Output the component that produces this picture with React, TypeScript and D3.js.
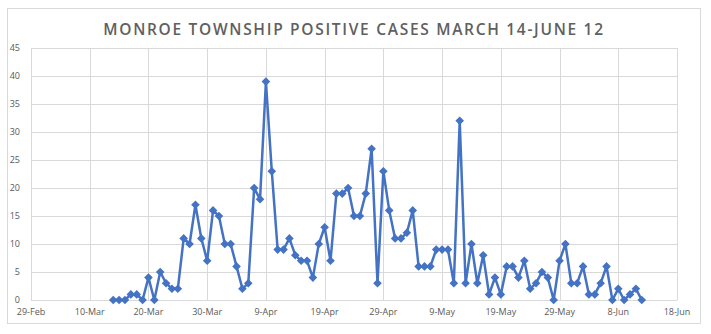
import React from "react";
import * as d3 from "d3";

const startDate = "2020-03-14";
const cases: number[] = [
  0, 0, 0, 1, 1, 0, 4, 0, 5, 3, 2, 2, 11, 10, 17, 11, 7, 16, 15, 10, 10, 6, 2, 3,
  20, 18, 39, 23, 9, 9, 11, 8, 7, 7, 4, 10, 13, 7, 19, 19, 20, 15, 15, 19, 27, 3,
  23, 16, 11, 11, 12, 16, 6, 6, 6, 9, 9, 9, 3, 32, 3, 10, 3, 8, 1, 4, 1, 6, 6, 4,
  7, 2, 3, 5, 4, 0, 7, 10, 3, 3, 6, 1, 1, 3, 6, 0, 2, 0, 1, 2, 0,
];
const yTicks = [0, 5, 10, 15, 20, 25, 30, 35, 40, 45];
const xTickLabels = [
  "29-Feb", "10-Mar", "20-Mar", "30-Mar", "9-Apr", "19-Apr", "29-Apr",
  "9-May", "19-May", "29-May", "8-Jun", "18-Jun",
];
const title = "MONROE TOWNSHIP POSITIVE CASES MARCH 14-JUNE 12";

const W = 711;
const H = 334;
const left = 31;
const right = 677;
const top = 48;
const bottom = 300;

export default function App() {
  const start = new Date(2020, 1, 29);
  const end = new Date(2020, 5, 18);
  const x = d3.scaleTime().domain([start, end]).range([left, right]);
  const y = d3.scaleLinear().domain([0, 45]).range([bottom, top]);
  const s0 = d3.timeParse("%Y-%m-%d")(startDate)!;
  const pts = cases.map((v, i) => ({ d: d3.timeDay.offset(s0, i), v }));
  const xTicks = xTickLabels.map((_, i) => d3.timeDay.offset(start, i * 10));
  const line = d3
    .line<{ d: Date; v: number }>()
    .x((p) => x(p.d))
    .y((p) => y(p.v));
  const r = 4.3;
  const diamond = `M0,${-r}L${r},0L0,${r}L${-r},0Z`;
  const font = "'Open Sans', sans-serif";
  return (
    <svg
      width={W}
      height={H}
      style={{ position: "absolute", left: 0, top: 0, background: "#fff" }}
      fontFamily={font}
    >
      <rect x={7.5} y={8.5} width={693} height={315} fill="#fff" stroke="#D9D9D9" />
      <text
        x={354}
        y={35}
        textAnchor="middle"
        fontSize={15.5}
        fontWeight={600}
        fill="#606060"
        letterSpacing={1.7}
      >
        {title}
      </text>
      {yTicks.map((t) => (
        <g key={"y" + t}>
          <line x1={left} x2={right} y1={Math.round(y(t)) + 0.5} y2={Math.round(y(t)) + 0.5} stroke="#D9D9D9" />
          <text x={20} y={y(t) + 3} textAnchor="end" fontSize={9} fill="#595959">
            {t}
          </text>
        </g>
      ))}
      {xTicks.map((d, i) => (
        <g key={"x" + i}>
          <line x1={Math.round(x(d)) + 0.5} x2={Math.round(x(d)) + 0.5} y1={top} y2={bottom} stroke="#D9D9D9" />
          <text x={x(d)} y={315} textAnchor="middle" fontSize={9} fill="#595959">
            {xTickLabels[i]}
          </text>
        </g>
      ))}
      <path d={line(pts)!} fill="none" stroke="#4472C4" strokeWidth={2.5} strokeLinejoin="round" />
      {pts.map((p, i) => (
        <path key={i} d={diamond} transform={`translate(${x(p.d)},${y(p.v)})`} fill="#4472C4" />
      ))}
    </svg>
  );
}
